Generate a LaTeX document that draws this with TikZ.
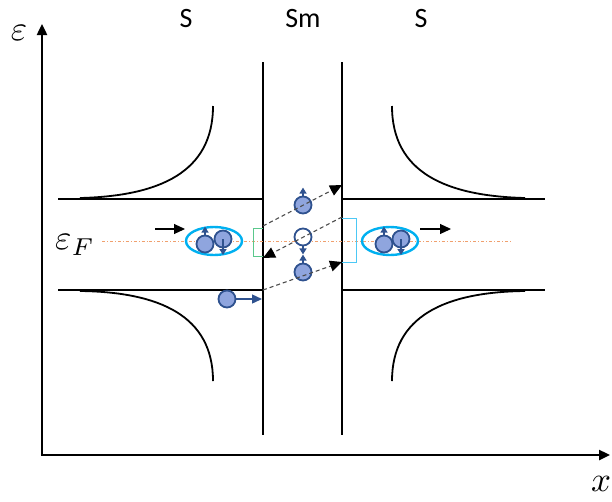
\documentclass[tikz,border=0pt]{standalone}
\usepackage{fontspec}
\setmainfont{Carlito}
\usetikzlibrary{arrows.meta,positioning,shapes.geometric}
\definecolor{ballfill}{RGB}{143,165,222}
\definecolor{balledge}{RGB}{47,82,143}
\definecolor{ringblue}{RGB}{0,176,240}
\definecolor{fermiorange}{RGB}{240,160,110}
\definecolor{bracketgreen}{RGB}{90,200,140}
\tikzset{
  axis/.style={line width=2.4pt, -{Triangle[length=11pt,width=10pt]}},
  wall/.style={line width=2pt},
  gapedge/.style={line width=2pt},
  dos/.style={line width=1.8pt},
  ball/.style={circle, draw=balledge, fill=ballfill, line width=1.8pt, minimum size=17pt, inner sep=0pt},
  hole/.style={ball, fill=white},
  spin/.style={balledge, line width=1.5pt, -{Triangle[length=6pt,width=7pt]}},
  pairring/.style={ellipse, draw=ringblue, line width=2.4pt, minimum width=56pt, minimum height=28pt, inner sep=0pt},
  pairarrow/.style={line width=1.1pt, -{Triangle[length=11pt,width=10pt]}},
  andreev/.style={dashed, dash pattern=on 4pt off 3pt, gray!60!black, line width=1.1pt, -{Triangle[length=12pt,width=11pt,black]}},
  regionlabel/.style={font=\fontsize{28}{32}\selectfont},
  axislabel/.style={scale=3.5, inner sep=0pt}
}

\begin{document}
\begin{tikzpicture}[x=1pt,y=-1pt]
  \useasboundingbox (0,0) rectangle (612,501);
  % axes
  \coordinate (origin) at (42,455);
  \coordinate (etop) at (42,24);
  \coordinate (xend) at (610,455);
  \draw[axis] (origin) -- (etop);
  \draw[axis] ([xshift=-1.2pt]origin) -- (xend);
  \node[axislabel] (elabel) at (19,33) {$\varepsilon$};
  \node[axislabel] (xlabel) at (601,484) {$x$};
  \node[regionlabel] (sleft) at (186,19) {S};
  \node[regionlabel] (smid) at (303,19) {Sm};
  \node[regionlabel] (sright) at (421,19) {S};

  % Sm walls
  \draw[wall] (263,62) -- (263,435);
  \draw[wall] (342,62) -- (342,435);

  % gap edges
  \draw[gapedge] (58,199) -- (263,199);
  \draw[gapedge] (58,290) -- (263,290);
  \draw[gapedge] (342,199) -- (545,199);
  \draw[gapedge] (342,290) -- (545,290);

  % density of states
  \draw[dos] (213,106) .. controls (213,172) and (160,196) .. (80,198);
  \draw[dos] (213,381) .. controls (213,316) and (160,292) .. (80,291);
  \draw[dos] (392,106) .. controls (392,172) and (445,196) .. (525,198);
  \draw[dos] (392,381) .. controls (392,316) and (445,292) .. (525,291);

  % Fermi level
  \node[axislabel] (ef) at (75,245) {$\varepsilon_F$};
  \draw[fermiorange, line width=0.9pt, dash dot] (102,241) -- (510,241);

  % brackets
  \draw[bracketgreen, line width=1pt] (263,228) -- (253,228) -- (253,256) -- (263,256);
  \draw[ringblue!70, line width=1pt] (342,218) -- (356,218) -- (356,262) -- (342,262);

  % Cooper pair left
  \node[pairring] (ringl) at (214,241) {};
  \node[ball] (pl1) at (205,244) {};
  \node[ball] (pl2) at (223,239) {};
  \draw[spin] (pl1.north) -- ++(0,-8);
  \draw[spin] (pl2.center) -- ++(0,16);
  \coordinate (inl) at (155,229);
  \coordinate (inr) at (185,229);
  \draw[pairarrow] (inl) -- (inr);

  % Cooper pair right
  \node[pairring] (ringr) at (390,241) {};
  \node[ball] (pr1) at (384,244) {};
  \node[ball] (pr2) at (401,239) {};
  \draw[spin] (pr1.north) -- ++(0,-8);
  \draw[spin] (pr2.center) -- ++(0,16);
  \coordinate (outl) at (420,229);
  \coordinate (outr) at (451,229);
  \draw[pairarrow] (outl) -- (outr);

  % incoming electron
  \node[ball] (inball) at (227,299) {};
  \coordinate (hitwall) at (262,299);
  \draw[balledge, line width=1.4pt, -{Triangle[length=10pt,width=9pt]}] (inball) -- (hitwall);

  % Andreev bound states
  \node[ball] (eup) at (303,205) {};
  \node[hole] (hdown) at (303,237) {};
  \node[ball] (elow) at (303,272) {};
  \draw[spin] (eup.north) -- ++(0,-8);
  \draw[spin] (hdown.south) -- ++(0,8);
  \draw[spin] (elow.north) -- ++(0,-8);

  \coordinate (a1) at (263,226);
  \coordinate (a2) at (342,185);
  \coordinate (b1) at (342,217);
  \coordinate (b2) at (263,258);
  \coordinate (c1) at (263,290);
  \coordinate (c2) at (342,262);
  \draw[andreev] (a1) -- (a2);
  \draw[andreev] (b1) -- (b2);
  \draw[andreev] (c1) -- (c2);
\end{tikzpicture}
\end{document}
